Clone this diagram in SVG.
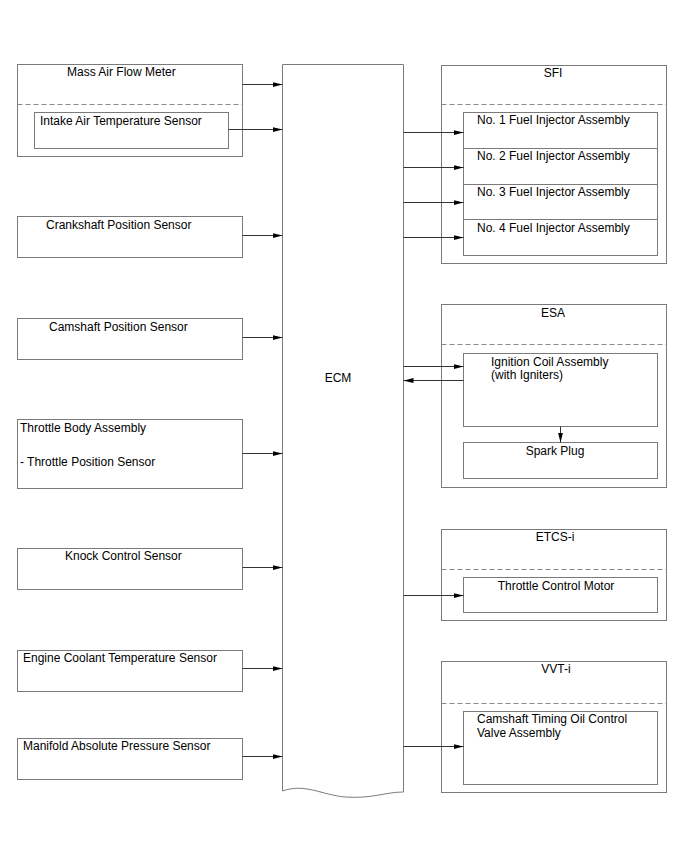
<svg xmlns="http://www.w3.org/2000/svg" width="688" height="852" viewBox="0 0 688 852">
<defs>
<marker id="ah" markerWidth="10" markerHeight="8" refX="10" refY="4" orient="auto" markerUnits="userSpaceOnUse">
<path d="M0,1.5 L10,4 L0,6.5 Z" fill="#000"/>
</marker>
</defs>
<style>
.box{fill:#fff;stroke:#7a7a7a;stroke-width:1}
.dash{stroke:#8a8a8a;stroke-width:1;stroke-dasharray:5,3;fill:none}
.t{font-family:"Liberation Sans",Arial,sans-serif;font-size:12px;fill:#000}
.c{text-anchor:middle}
.con{stroke:#333;stroke-width:1;fill:none;marker-end:url(#ah)}
</style>
<rect width="688" height="852" fill="#fff"/>

<g id="maf">
<rect class="box" x="17.5" y="64.5" width="225" height="92"/>
<line class="dash" x1="17.5" y1="104.5" x2="242.5" y2="104.5"/>
<text class="t" x="67" y="76">Mass Air Flow Meter</text>
</g>
<g id="iat">
<rect class="box" x="34.5" y="112.5" width="194" height="36"/>
<text class="t" x="40" y="125">Intake Air Temperature Sensor</text>
</g>
<g id="ckp">
<rect class="box" x="17.5" y="216.5" width="225" height="41"/>
<text class="t" x="46" y="229">Crankshaft Position Sensor</text>
</g>
<g id="cmp">
<rect class="box" x="17.5" y="318.5" width="225" height="41"/>
<text class="t" x="49" y="331">Camshaft Position Sensor</text>
</g>
<g id="tb">
<rect class="box" x="17.5" y="419.5" width="225" height="69"/>
<text class="t" x="20" y="432">Throttle Body Assembly</text>
<text class="t" x="20" y="466">- Throttle Position Sensor</text>
</g>
<g id="knock">
<rect class="box" x="17.5" y="548.5" width="225" height="41"/>
<text class="t" x="65" y="560">Knock Control Sensor</text>
</g>
<g id="ect">
<rect class="box" x="17.5" y="650.5" width="225" height="41"/>
<text class="t" x="23" y="662">Engine Coolant Temperature Sensor</text>
</g>
<g id="map">
<rect class="box" x="17.5" y="738.5" width="225" height="41"/>
<text class="t" x="23" y="750">Manifold Absolute Pressure Sensor</text>
</g>

<g id="ecm">
<path class="box" d="M282.5,64.5 L403.5,64.5 L403.5,792 C385,792 372,799 345,797 C322,795 305,783 282.5,791 Z"/>
<text class="t c" x="338" y="382">ECM</text>
</g>

<g id="sfi">
<rect class="box" x="441.5" y="65.5" width="225" height="198"/>
<line class="dash" x1="441.5" y1="104.5" x2="666.5" y2="104.5"/>
<text class="t c" x="553" y="77">SFI</text>
</g>
<g id="inj1">
<rect class="box" x="463.5" y="112.5" width="194" height="36"/>
<text class="t" x="477" y="124">No. 1 Fuel Injector Assembly</text>
</g>
<g id="inj2">
<rect class="box" x="463.5" y="148.5" width="194" height="36"/>
<text class="t" x="477" y="160">No. 2 Fuel Injector Assembly</text>
</g>
<g id="inj3">
<rect class="box" x="463.5" y="184.5" width="194" height="35"/>
<text class="t" x="477" y="196">No. 3 Fuel Injector Assembly</text>
</g>
<g id="inj4">
<rect class="box" x="463.5" y="219.5" width="194" height="36"/>
<text class="t" x="477" y="232">No. 4 Fuel Injector Assembly</text>
</g>

<g id="esa">
<rect class="box" x="441.5" y="304.5" width="225" height="183"/>
<line class="dash" x1="441.5" y1="344.5" x2="666.5" y2="344.5"/>
<text class="t c" x="553" y="317">ESA</text>
</g>
<g id="ign">
<rect class="box" x="463.5" y="353.5" width="194" height="73"/>
<text class="t" x="491" y="366">Ignition Coil Assembly</text>
<text class="t" x="491" y="379">(with Igniters)</text>
</g>
<g id="spark">
<rect class="box" x="463.5" y="442.5" width="194" height="36"/>
<text class="t c" x="555" y="455">Spark Plug</text>
</g>

<g id="etcs">
<rect class="box" x="441.5" y="529.5" width="225" height="91"/>
<line class="dash" x1="441.5" y1="569.5" x2="666.5" y2="569.5"/>
<text class="t c" x="555" y="541">ETCS-i</text>
</g>
<g id="tcm">
<rect class="box" x="463.5" y="577.5" width="194" height="35"/>
<text class="t c" x="556" y="590">Throttle Control Motor</text>
</g>

<g id="vvt">
<rect class="box" x="441.5" y="661.5" width="225" height="131"/>
<line class="dash" x1="441.5" y1="703.5" x2="666.5" y2="703.5"/>
<text class="t c" x="556" y="673">VVT-i</text>
</g>
<g id="ocv">
<rect class="box" x="463.5" y="711.5" width="194" height="73"/>
<text class="t" x="477" y="723">Camshaft Timing Oil Control</text>
<text class="t" x="477" y="737">Valve Assembly</text>
</g>

<g id="connectors">
<line class="con" x1="242.5" y1="84.5" x2="282.5" y2="84.5"/>
<line class="con" x1="228.5" y1="129.5" x2="282.5" y2="129.5"/>
<line class="con" x1="242.5" y1="235.5" x2="282.5" y2="235.5"/>
<line class="con" x1="242.5" y1="337.5" x2="282.5" y2="337.5"/>
<line class="con" x1="242.5" y1="453.5" x2="282.5" y2="453.5"/>
<line class="con" x1="242.5" y1="567.5" x2="282.5" y2="567.5"/>
<line class="con" x1="242.5" y1="668.5" x2="282.5" y2="668.5"/>
<line class="con" x1="242.5" y1="756.5" x2="282.5" y2="756.5"/>
<line class="con" x1="403.5" y1="132.5" x2="463.5" y2="132.5"/>
<line class="con" x1="403.5" y1="167.5" x2="463.5" y2="167.5"/>
<line class="con" x1="403.5" y1="202.5" x2="463.5" y2="202.5"/>
<line class="con" x1="403.5" y1="237.5" x2="463.5" y2="237.5"/>
<line class="con" x1="403.5" y1="366.5" x2="463.5" y2="366.5"/>
<line class="con" x1="463.5" y1="380.5" x2="403.5" y2="380.5"/>
<line class="con" x1="560.5" y1="426.5" x2="560.5" y2="442.5"/>
<line class="con" x1="403.5" y1="595.5" x2="463.5" y2="595.5"/>
<line class="con" x1="403.5" y1="746.5" x2="463.5" y2="746.5"/>
</g>
</svg>
